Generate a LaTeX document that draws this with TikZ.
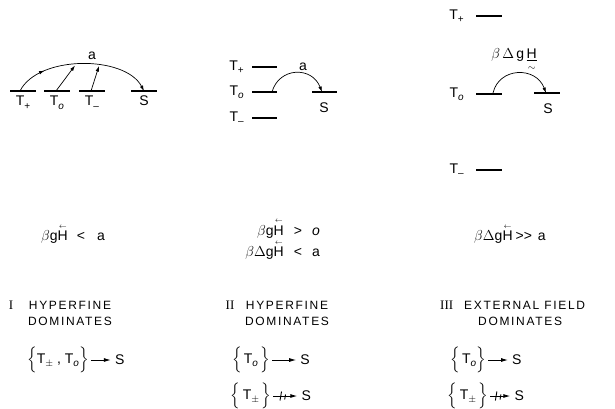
\documentclass[tikz,border=0pt]{standalone}
\usepackage{amsmath}
\usepackage{fontspec}
\setmainfont{Liberation Sans}
\newfontfamily\romfont{Liberation Serif}
\newfontfamily\headfont[LetterSpace=14]{Liberation Sans}
\usetikzlibrary{arrows.meta,positioning,decorations.markings}
\newcommand{\Hv}{\ensuremath{\overset{\scriptscriptstyle\leftarrow}{\mbox{H}}}}
\newcommand{\Ht}{\ensuremath{\underset{\sim}{\underline{\mbox{H}}}}}
\newcommand{\lsub}[1]{\raisebox{-0.45ex}{\fontsize{10}{10}\selectfont #1}}

\begin{document}
\begin{tikzpicture}[x=1pt, y=-1pt,
  lvl/.style={line width=1.2pt},
  lab/.style={font=\fontsize{14}{16}\selectfont, inner sep=1pt},
  cond/.style={font=\fontsize{14}{16}\selectfont, inner sep=1pt, align=right},
  head/.style={font=\fontsize{12}{16}\headfont, inner sep=1pt, align=center},
  numl/.style={font=\fontsize{13}{16}\romfont, inner sep=1pt},
  hop/.style={-{Latex[length=5.5pt,width=3.5pt]}, line width=0.7pt},
  yield/.style={-{Latex[length=7pt,width=4pt]}, line width=0.9pt, shorten <=1pt, shorten >=3pt},
  nogo/.style={yield, postaction={decorate}, decoration={markings,
      mark=at position 0.4 with {\draw[-, line width=0.9pt] (-3.5pt,-4.5pt) -- (-2pt,4.5pt) (1pt,-4.5pt) -- (2.5pt,4.5pt);}}}
]
\useasboundingbox (0,0) rectangle (615,408);

% case I: hyperfine coupling only
\foreach \n/\x/\t in {tp/23/T\lsub{+}, tz/57/T\lsub{\itshape o}, tm/92/T\lsub{--}, s/144/S} {
  \draw[lvl] (\x-13,91) -- (\x+13,91);
  \node[lab, below] (l1\n) at (\x,95) {\t};
}
\coordinate (a1) at (20,91);
\coordinate (b1) at (144,91);
\coordinate (c1) at (56,91);
\coordinate (d1) at (91,91);
\coordinate (e1) at (75,65.5);
\coordinate (f1) at (99,66);
\draw[hop, postaction={decorate}, decoration={markings,
    mark=at position 0.23 with {\arrow{Latex[length=5.5pt,width=3.5pt]}}}]
  (a1) .. controls (38,55) and (125,55) .. (b1);
\draw[hop] (c1) -- (e1);
\draw[hop] (d1) -- (f1);
\node[lab] (k1) at (92,56) {a};

% case II: weak field
\foreach \n/\y/\t in {tp/67/T\lsub{+}, tz/92/T\lsub{\itshape o}, tm/118/T\lsub{--}} {
  \draw[lvl] (252,\y) -- (277,\y);
  \node[lab, anchor=east] (l2\n) at (245,\y) {\t};
}
\draw[lvl] (312,92) -- (337,92);
\node[lab] (l2s) at (324,108) {S};
\coordinate (a2) at (272,92);
\coordinate (b2) at (322,92);
\draw[hop] (a2) .. controls (279,67) and (312,66) .. (b2);
\node[lab] (k2) at (303,67) {a};

% case III: strong external field
\foreach \n/\y/\t in {tp/16/T\lsub{+}, tz/94/T\lsub{\itshape o}, tm/170/T\lsub{--}} {
  \draw[lvl] (476,\y) -- (502,\y);
  \node[lab, anchor=east] (l3\n) at (465,\y) {\t};
}
\draw[lvl] (534,93) -- (560,93);
\node[lab] (l3s) at (548,109) {S};
\coordinate (a3) at (493,93);
\coordinate (b3) at (546,93);
\draw[hop] (a3) .. controls (499,67) and (536,66) .. (b3);
\node[lab] (k3) at (514,60) {$\beta$\,$\Delta$\,g\,\Ht};

% conditions
\node[cond] (q1) at (73,234) {$\beta$g\Hv\hspace{9pt}<\hspace{12pt}a};
\node[cond, anchor=east] (q2) at (321,239) {$\beta$g\Hv\hspace{10pt}>\hspace{10pt}\textit{o}\\[1pt]$\beta\Delta$g\Hv\hspace{10pt}<\hspace{10pt}a};
\node[cond] (q3) at (510,234) {$\beta\Delta$g\Hv\hspace{3pt}>{}>\hspace{6pt}a};

% regimes
\node[numl, anchor=north] (n1) at (11,300) {I};
\node[head, anchor=north] (h1) at (70,300) {HYPERFINE\\DOMINATES};
\node[numl, anchor=north] (n2) at (230,300) {II};
\node[head, anchor=north] (h2) at (287,300) {HYPERFINE\\DOMINATES};
\node[numl, anchor=north west] (n3) at (439,300) {III};
\node[head, anchor=north west, align=left] (h3) at (463,300) {EXTERNAL FIELD\\\hspace{14pt}DOMINATES};

% transitions
\node[lab] (g1) at (58,360) {$\Bigl\{$T\lsub{$\pm$}\;,\;T\lsub{\itshape o}$\Bigr\}$};
\node[lab, right=24pt of g1] (s1) {S};
\draw[yield] (g1) -- (s1);
\node[lab] (g2) at (251,360) {$\Bigl\{$\,T\lsub{\itshape o}\,$\Bigr\}$};
\node[lab, right=28pt of g2] (s2) {S};
\draw[yield] (g2) -- (s2);
\node[lab] (g2b) at (251,396) {$\Bigl\{$\,T\lsub{$\pm$}\,$\Bigr\}$};
\node[lab, right=28pt of g2b] (s2b) {S};
\draw[nogo] (g2b) -- (s2b);
\node[lab] (g3) at (468,360) {$\Bigl\{$\,T\lsub{\itshape o}$\Bigr\}$};
\node[lab, right=24pt of g3] (s3) {S};
\draw[yield] (g3) -- (s3);
\node[lab] (g3b) at (468,396) {$\Bigl\{$\,T\lsub{$\pm$}\,$\Bigr\}$};
\node[lab, right=24pt of g3b] (s3b) {S};
\draw[nogo] (g3b) -- (s3b);
\end{tikzpicture}
\end{document}
